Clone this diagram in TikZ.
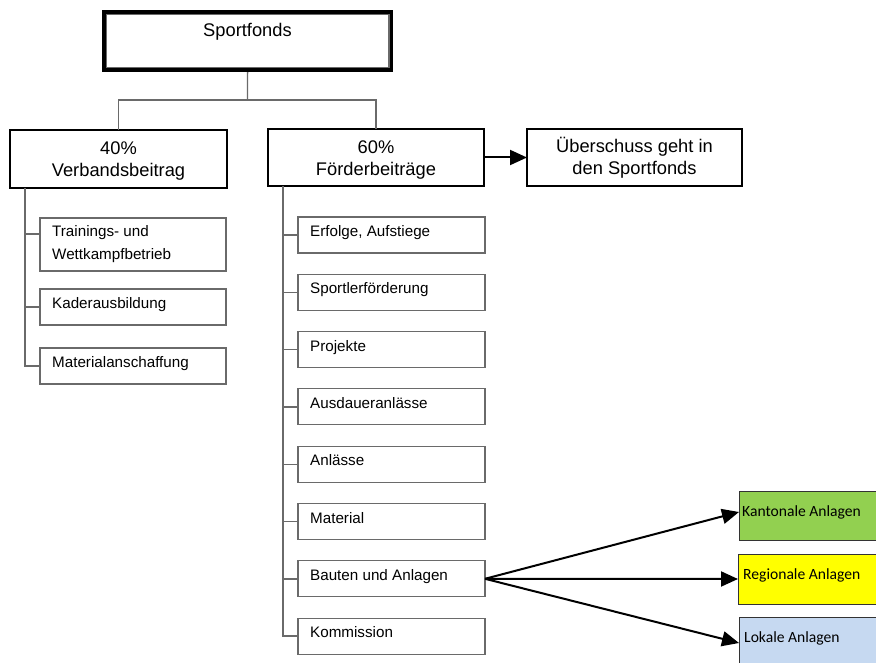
\documentclass[tikz,border=0pt]{standalone}
\usepackage{fontspec}
\setmainfont{Liberation Sans}
\newfontfamily\calfont{Carlito}
\usetikzlibrary{arrows.meta}
\definecolor{lgray}{HTML}{6A6A6A}
\definecolor{kgreen}{HTML}{92D050}
\definecolor{ryellow}{HTML}{FFFF00}
\definecolor{lblue}{HTML}{C6D9F1}
\tikzset{
  bigbox/.style={draw=black, line width=2pt, inner sep=0pt, outer sep=0pt, anchor=north west},
  subbox/.style={draw=lgray, line width=1.1pt, inner sep=0pt, outer sep=0pt, anchor=north west, minimum height=36pt},
  colbox/.style={draw=black!80, line width=0.9pt, inner sep=0pt, outer sep=0pt, anchor=north west, minimum width=170pt, minimum height=49pt},
  conn/.style={draw=lgray, line width=1.4pt},
  arr/.style={draw=black, line width=2pt, -{Triangle[length=17pt,width=15pt]}},
  bigtxt/.style={font=\fontsize{18.3}{21}\selectfont, anchor=base, inner sep=0pt},
  smalltxt/.style={font=\fontsize{15.2}{18}\selectfont, anchor=base west, inner sep=0pt},
  coltxt/.style={font=\calfont\fontsize{15.6}{18}\selectfont, anchor=base west, inner sep=0pt},
}
\begin{document}
\begin{tikzpicture}[x=1pt,y=-1pt]
\useasboundingbox (0,0) rectangle (876,663);
\clip (0,0) rectangle (876,663);
% top box
\node[bigbox, line width=3.6pt, minimum width=287.5pt, minimum height=58.5pt] (sf) at (103.8,11.8) {};
\draw[lgray, line width=1.6pt] ([shift={(2.6,2.6)}]sf.north west) rectangle ([shift={(-2.6,-2.6)}]sf.south east);
\node[bigtxt] (sft) at (247.5,36.5) {Sportfonds};
% level 2
\node[bigbox, minimum width=217pt, minimum height=58pt] (b40) at (10,130) {};
\node[bigtxt] (b40a) at (118.5,155) {40\%};
\node[bigtxt] (b40b) at (118.5,176.5) {Verbandsbeitrag};
\node[bigbox, minimum width=216pt, minimum height=57pt] (b60) at (268,129) {};
\node[bigtxt] (b60a) at (376,154) {60\%};
\node[bigtxt] (b60b) at (376,175.5) {Förderbeiträge};
\node[bigbox, minimum width=215pt, minimum height=57pt] (bu) at (527,129) {};
\node[bigtxt] (bua) at (634.5,152.5) {Überschuss geht in};
\node[bigtxt] (bub) at (634.5,174.5) {den Sportfonds};
% tree connectors
\coordinate (mid) at (247.5,100);
\draw[conn] ([yshift=-1.8pt]sf.south) -- (mid);
\draw[conn] (mid) -| (b40.north);
\draw[conn] (mid) -| (b60.north);
\draw[arr] (b60.east) -- (bu.west);
% left sub boxes
\node[subbox, minimum width=186pt, minimum height=53pt] (s1) at (40,218) {};
\node[smalltxt] (s1a) at (52,236.7) {Trainings- und};
\node[smalltxt] (s1b) at (52,259.3) {Wettkampfbetrieb};
\node[subbox, minimum width=186pt] (s2) at (40,289) {};
\node[smalltxt] (s2a) at (52,308.5) {Kaderausbildung};
\node[subbox, minimum width=186pt] (s3) at (40,348) {};
\node[smalltxt] (s3a) at (52,367.5) {Materialanschaffung};
\coordinate (lv) at (25,188);
\coordinate (s1tick) at (40,234);
\draw[conn] (lv) |- (s3.west);
\draw[conn] (s1tick -| lv) -- (s1tick);
\draw[conn] (s2.west -| lv) -- (s2.west);
% right sub boxes
\foreach \i/\y/\t in {1/217/{Erfolge, Aufstiege},2/274.3/{Sportlerförderung},3/331.6/{Projekte},4/388.9/{Ausdaueranlässe},5/446.2/{Anlässe},6/503.5/{Material},7/560.8/{Bauten und Anlagen},8/618.1/{Kommission}}{
  \node[subbox, minimum width=187pt] (r\i) at (298,\y) {};
  \node[smalltxt] (r\i t) at (310,\y+19.5) {\t};
}
\coordinate (rv) at (283,186);
\draw[conn] (rv) |- (r8.west);
\foreach \i in {1,...,7}{
  \draw[conn] (r\i.west -| rv) -- (r\i.west);
}
% coloured boxes
\node[colbox, fill=kgreen] (k) at (739,491) {};
\node[coltxt] (kt) at (742,516.7) {Kantonale Anlagen};
\node[colbox, fill=ryellow, minimum height=50pt] (rg) at (738,554) {};
\node[coltxt] (rgt) at (743,579) {Regionale Anlagen};
\node[colbox, fill=lblue, minimum height=50pt] (lk) at (739,617) {};
\node[coltxt] (lkt) at (744,642.7) {Lokale Anlagen};
\draw[arr] (r7.east) -- ([yshift=3.5pt]k.west);
\draw[arr] (r7.east) -- (rg.west);
\draw[arr] (r7.east) -- ([yshift=-1pt]lk.west);
\end{tikzpicture}
\end{document}
